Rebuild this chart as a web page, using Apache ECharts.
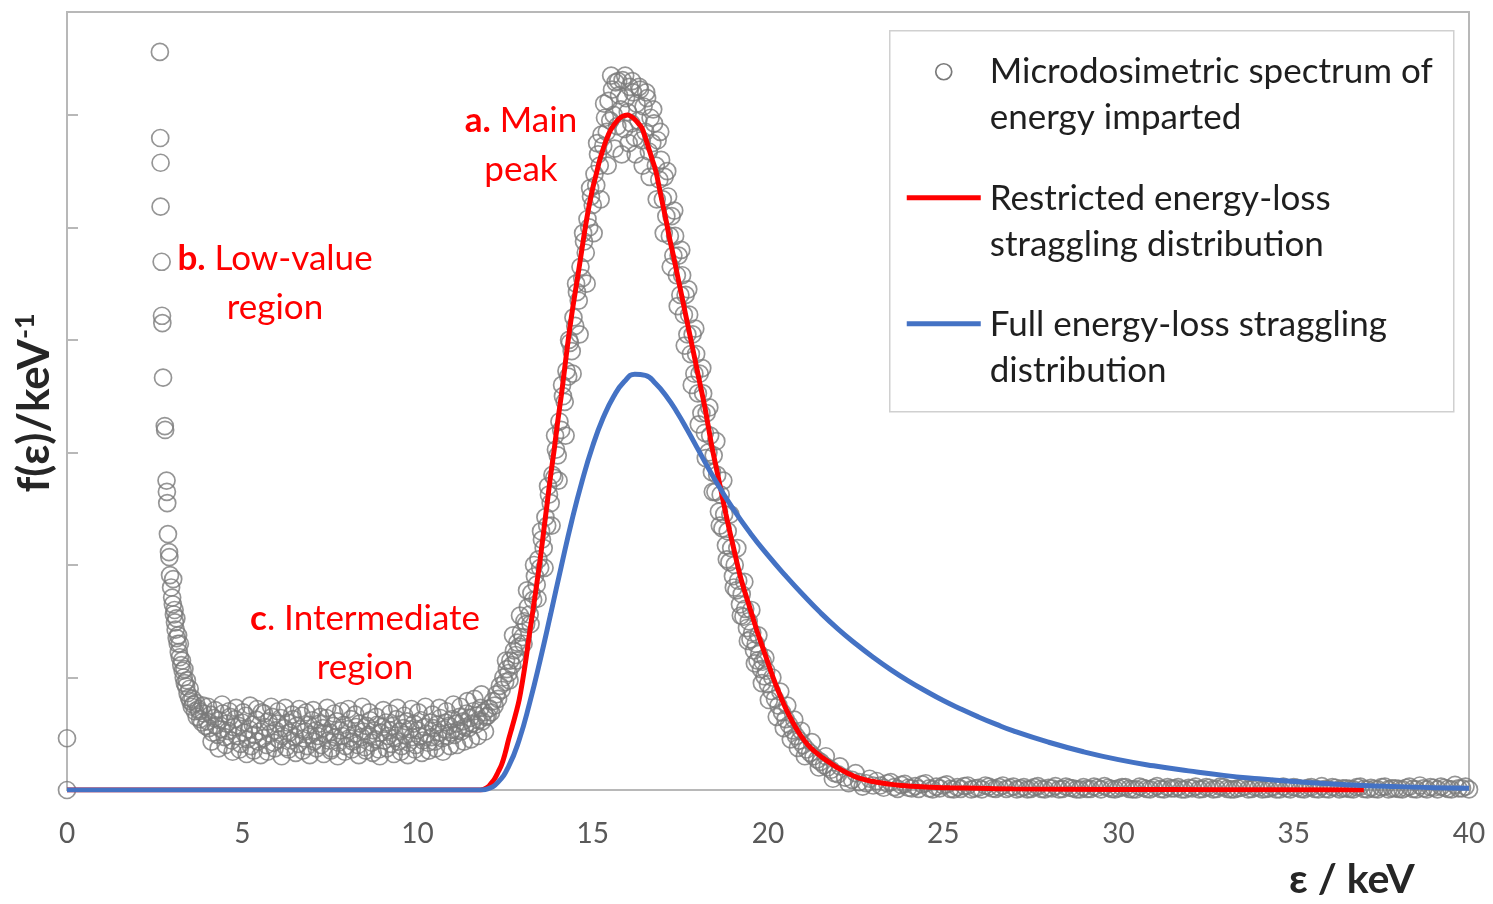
<!DOCTYPE html>
<html>
<head>
<meta charset="utf-8">
<title>Microdosimetric spectrum</title>
<script src="https://cdn.jsdelivr.net/npm/echarts@6/dist/echarts.min.js"></script>
<style>
  html, body { margin: 0; padding: 0; background: #fff; }
  #chart { width: 1493px; height: 904px; }
</style>
</head>
<body>
<div id="chart"></div>
<script>
// y values in units of 1e-2 keV^-1 (ticks every 2)
const xTicks = [0, 5, 10, 15, 20, 25, 30, 35, 40]
const yTicks = [0, 2, 4, 6, 8, 10, 12]

// measured spectrum, split by region
const originPoints = [[0, 0], [0, 0.92]]

const lowValueRegion = [
  [2.65, 13.12], [2.66, 11.59], [2.67, 11.15], [2.67, 10.37], [2.7, 9.39], [2.71, 8.43], [2.72, 8.3],
  [2.74, 7.33], [2.79, 6.47], [2.8, 6.4], [2.84, 5.5], [2.85, 5.3], [2.86, 5.1], [2.88, 4.55],
  [2.91, 4.23], [2.92, 4.14], [2.94, 3.82], [2.97, 3.6], [3.0, 3.42], [3.02, 3.3], [3.05, 3.12],
  [3.08, 2.98], [3.1, 2.85], [3.13, 2.7], [3.16, 2.6], [3.19, 2.45], [3.22, 2.36], [3.26, 2.22],
  [3.3, 2.12], [3.33, 2.0], [3.36, 1.9], [3.4, 1.84], [3.44, 1.72], [3.48, 1.64], [3.52, 1.58],
  [3.56, 1.48], [3.6, 1.52], [3.65, 1.4], [3.7, 1.3], [3.75, 1.44], [3.8, 1.26], [3.85, 1.2],
  [3.9, 1.36], [3.95, 1.14], [3.03, 3.75], [3.07, 3.2], [3.12, 3.05], [3.17, 2.75], [3.22, 2.6],
  [3.28, 2.3], [3.35, 2.15], [3.42, 1.95], [3.5, 1.8], [3.58, 1.62], [3.68, 1.55], [3.78, 1.4], [3.88, 1.5]
]

const intermediateRegion = [
  [4.00, 1.22], [4.05, 1.10], [4.10, 1.34], [4.15, 1.02], [4.20, 1.28], [4.25, 1.15], [4.30, 0.98], [4.35, 1.24],
  [4.40, 1.08], [4.45, 1.36], [4.50, 0.94], [4.55, 1.18], [4.60, 1.05], [4.65, 1.30], [4.70, 0.88], [4.75, 1.12],
  [4.80, 1.26], [4.85, 0.96], [4.90, 1.14], [4.95, 0.82], [5.00, 1.20], [5.05, 1.02], [5.10, 1.32], [5.15, 0.90],
  [5.20, 1.08], [5.25, 0.78], [5.30, 1.16], [5.35, 0.98], [5.40, 1.25], [5.45, 0.86], [5.50, 1.04], [5.55, 1.38],
  [5.60, 0.92], [5.65, 1.12], [5.70, 0.80], [5.75, 1.22], [5.80, 1.00], [5.85, 1.30], [5.90, 0.84], [5.95, 1.06],
  [6.00, 1.18], [6.05, 0.90], [6.10, 1.28], [6.15, 0.96], [6.20, 1.10], [6.25, 0.76], [6.30, 1.20], [6.35, 1.02],
  [6.40, 0.88], [6.45, 1.26], [6.50, 0.94], [6.55, 1.14], [6.60, 0.82], [6.65, 1.08], [6.70, 1.32], [6.75, 0.92],
  [6.80, 1.04], [6.85, 0.78], [6.90, 1.16], [6.95, 0.98], [7.00, 1.24], [7.05, 0.86], [7.10, 1.06], [7.15, 0.96],
  [7.20, 1.18], [7.25, 0.80], [7.30, 1.10], [7.35, 1.00], [7.40, 1.28], [7.45, 0.88], [7.50, 1.02], [7.55, 0.74],
  [7.60, 1.14], [7.65, 0.94], [7.70, 1.22], [7.75, 0.84], [7.80, 1.06], [7.85, 0.96], [7.90, 1.16], [7.95, 0.78],
  [8.00, 1.08], [8.05, 0.92], [8.10, 1.26], [8.15, 0.86], [8.20, 1.00], [8.25, 1.12], [8.30, 0.80], [8.35, 1.18],
  [8.40, 0.94], [8.45, 1.04], [8.50, 0.76], [8.55, 1.14], [8.60, 0.98], [8.65, 1.24], [8.70, 0.84], [8.75, 1.06],
  [8.80, 0.90], [8.85, 1.16], [8.90, 0.72], [8.95, 1.02], [9.00, 1.12], [9.05, 0.88], [9.10, 1.20], [9.15, 0.96],
  [9.20, 1.06], [9.25, 0.82], [9.30, 1.14], [9.35, 0.92], [9.40, 1.26], [9.45, 0.86], [9.50, 1.04], [9.55, 0.78],
  [9.60, 1.10], [9.65, 0.98], [9.70, 1.22], [9.75, 0.84], [9.80, 1.08], [9.85, 0.94], [9.90, 1.18], [9.95, 0.80],
  [10.00, 1.06], [10.05, 0.96], [10.10, 1.24], [10.15, 0.88], [10.20, 1.12], [10.25, 1.00], [10.30, 0.84], [10.35, 1.20],
  [10.40, 0.94], [10.45, 1.10], [10.50, 0.86], [10.55, 1.16], [10.60, 1.02], [10.65, 1.28], [10.70, 0.92], [10.75, 1.08],
  [10.80, 1.20], [10.85, 0.96], [10.90, 1.14], [10.95, 1.02], [11.00, 1.26], [11.05, 0.98], [11.10, 1.18], [11.15, 1.06],
  [11.20, 1.30], [11.25, 1.04], [11.30, 1.22], [11.35, 1.12], [11.40, 1.36], [11.45, 1.10], [11.50, 1.28], [11.55, 1.18],
  [11.60, 1.40], [11.65, 1.16], [11.70, 1.32], [11.75, 1.24], [11.80, 1.46], [11.85, 1.22], [11.90, 1.38], [11.95, 1.30],
  [4.025, 1.48], [4.125, 0.86], [4.225, 1.42], [4.325, 0.74], [4.425, 1.52], [4.525, 0.80], [4.625, 1.40], [4.725, 0.68],
  [4.825, 1.46], [4.925, 0.72], [5.025, 1.38], [5.125, 0.64], [5.225, 1.50], [5.325, 0.70], [5.425, 1.44], [5.525, 0.62],
  [5.625, 1.36], [5.725, 0.68], [5.825, 1.48], [5.925, 0.74], [6.025, 1.40], [6.125, 0.60], [6.225, 1.46], [6.325, 0.72],
  [6.425, 1.34], [6.525, 0.66], [6.625, 1.44], [6.725, 0.70], [6.825, 1.38], [6.925, 0.62], [7.025, 1.42], [7.125, 0.74],
  [7.225, 1.30], [7.325, 0.64], [7.425, 1.46], [7.525, 0.70], [7.625, 1.36], [7.725, 0.60], [7.825, 1.40], [7.925, 0.68],
  [8.025, 1.44], [8.125, 0.72], [8.225, 1.34], [8.325, 0.62], [8.425, 1.48], [8.525, 0.70], [8.625, 1.38], [8.725, 0.66],
  [8.825, 1.30], [8.925, 0.60], [9.025, 1.42], [9.125, 0.74], [9.225, 1.36], [9.325, 0.64], [9.425, 1.46], [9.525, 0.68],
  [9.625, 1.32], [9.725, 0.62], [9.825, 1.44], [9.925, 0.72], [10.025, 1.38], [10.125, 0.66], [10.225, 1.48], [10.325, 0.70],
  [10.425, 1.34], [10.525, 0.74], [10.625, 1.46], [10.725, 0.68], [10.825, 1.40], [10.925, 0.78], [11.025, 1.52], [11.125, 0.80],
  [11.225, 1.48], [11.325, 0.86], [11.425, 1.58], [11.525, 0.90], [11.625, 1.62], [11.725, 0.96], [11.825, 1.70], [11.925, 1.04]
]

const mainPeakRegion = [
  [12.00, 1.32], [12.05, 1.45], [12.10, 1.38], [12.15, 1.58], [12.20, 1.50], [12.25, 1.70], [12.30, 1.62], [12.35, 1.85],
  [12.40, 1.78], [12.45, 2.00], [12.50, 1.92], [12.55, 2.15], [12.60, 2.08], [12.65, 2.30], [12.70, 2.22], [12.75, 2.48],
  [12.80, 2.40], [12.85, 2.62], [12.90, 2.55], [12.95, 2.80], [13.00, 2.72], [13.05, 3.00], [13.10, 2.95], [13.15, 3.25],
  [13.20, 3.12], [13.25, 3.50], [13.30, 3.38], [13.35, 3.80], [13.40, 3.65], [13.45, 4.10], [13.50, 3.95], [13.55, 4.45],
  [13.60, 4.30], [13.65, 4.85], [13.70, 4.70], [13.75, 5.25], [13.80, 5.10], [13.85, 5.60], [13.90, 5.55], [13.95, 6.05],
  [14.00, 5.95], [14.05, 6.55], [14.10, 6.40], [14.15, 7.00], [14.20, 6.90], [14.25, 7.45], [14.30, 7.35], [14.35, 7.95],
  [14.40, 7.80], [14.45, 8.40], [14.50, 8.25], [14.55, 8.85], [14.60, 8.70], [14.65, 9.30], [14.70, 9.10], [14.75, 9.75],
  [14.80, 9.55], [14.85, 10.15], [14.90, 10.00], [14.95, 10.55], [15.00, 10.40], [15.05, 10.95], [15.10, 10.75], [15.15, 11.30],
  [15.20, 11.10], [15.25, 11.65], [15.30, 11.45], [15.35, 11.95], [15.40, 11.70], [15.45, 12.25], [15.50, 11.90], [15.55, 12.45],
  [15.60, 12.00], [15.65, 12.58], [15.70, 11.80], [15.75, 12.35], [15.80, 12.10], [15.85, 12.62], [15.90, 11.75], [15.95, 12.30],
  [16.00, 12.05], [16.05, 12.50], [16.10, 11.85], [16.15, 12.40], [16.20, 11.60], [16.25, 12.20], [16.30, 11.90], [16.35, 12.45],
  [16.40, 11.55], [16.45, 12.15], [16.50, 11.70], [16.55, 12.30], [16.60, 11.35], [16.65, 11.95], [16.70, 11.50], [16.75, 11.85],
  [16.80, 11.10], [16.85, 11.55], [16.90, 10.85], [16.95, 11.20], [17.00, 10.50], [17.05, 10.90], [17.10, 10.20], [17.15, 10.55],
  [17.20, 9.85], [17.25, 10.20], [17.30, 9.50], [17.35, 9.85], [17.40, 9.15], [17.45, 9.50], [17.50, 8.80], [17.55, 9.15],
  [17.60, 8.45], [17.65, 8.80], [17.70, 8.10], [17.75, 8.45], [17.80, 7.75], [17.85, 8.10], [17.90, 7.40], [17.95, 7.75],
  [18.00, 7.05], [18.05, 7.40], [18.10, 6.70], [18.15, 7.05], [18.20, 6.35], [18.25, 6.70], [18.30, 6.00], [18.35, 6.30],
  [18.40, 5.65], [18.45, 5.95], [18.50, 5.30], [18.55, 5.60], [18.60, 4.95], [18.65, 5.25], [18.70, 4.65], [18.75, 4.90],
  [18.80, 4.35], [18.85, 4.60], [18.90, 4.05], [18.95, 4.30], [19.00, 3.80], [19.05, 4.00], [19.10, 3.55], [19.15, 3.72],
  [19.20, 3.30], [19.25, 3.48], [19.30, 3.08], [19.35, 3.22], [19.40, 2.88], [19.45, 3.00], [19.50, 2.68], [19.55, 2.80],
  [19.60, 2.48], [19.65, 2.60], [19.70, 2.30], [19.75, 2.42], [19.80, 2.15], [19.85, 2.28], [19.90, 2.02], [19.95, 2.12],
  [20.00, 1.88], [20.10, 1.76], [20.20, 1.62], [20.30, 1.50], [20.40, 1.38], [20.50, 1.26], [20.60, 1.16], [20.70, 1.06],
  [20.80, 0.96], [20.90, 0.88], [21.00, 0.80], [21.10, 0.72], [21.20, 0.66], [21.30, 0.60], [21.40, 0.54], [21.50, 0.50],
  [21.60, 0.44], [21.70, 0.40], [21.80, 0.36], [21.90, 0.30], [22.00, 0.28], [22.20, 0.22], [22.40, 0.18], [22.60, 0.14],
  [22.80, 0.12], [23.00, 0.08],
  [12.525, 2.3], [12.625, 1.95], [12.725, 2.75], [12.825, 2.3], [12.925, 3.1], [13.025, 2.6], [13.125, 3.55], [13.225, 2.95],
  [13.325, 4.0], [13.425, 3.4], [13.525, 4.6], [13.625, 3.95], [13.725, 5.4], [13.825, 4.7], [13.925, 6.3], [14.025, 5.5],
  [14.125, 7.2], [14.225, 6.3], [14.325, 8.0], [14.425, 7.4], [14.525, 9.0], [14.625, 8.1], [14.725, 9.9], [14.825, 9.0],
  [14.925, 10.7], [15.025, 9.9], [15.125, 11.5], [15.225, 10.5], [15.325, 12.2], [15.425, 11.1], [15.525, 12.7], [15.625, 11.4],
  [15.725, 12.6], [15.825, 11.3], [15.925, 12.7], [16.025, 11.5], [16.125, 12.6], [16.225, 11.3], [16.325, 12.5], [16.425, 11.1],
  [16.525, 12.4], [16.625, 10.9], [16.725, 12.1], [16.825, 10.5], [16.925, 11.7], [17.025, 9.9], [17.125, 11.0], [17.225, 9.3],
  [17.325, 10.3], [17.425, 8.6], [17.525, 9.6], [17.625, 7.9], [17.725, 8.9], [17.825, 7.2], [17.925, 8.2], [18.025, 6.5],
  [18.125, 7.5], [18.225, 5.9], [18.325, 6.8], [18.425, 5.3], [18.525, 6.2], [18.625, 4.7], [18.725, 5.5], [18.825, 4.1],
  [18.925, 4.9], [19.025, 3.6], [19.125, 4.3], [19.225, 3.1], [19.325, 3.7], [19.425, 2.65], [19.525, 3.2], [19.625, 2.25],
  [19.725, 2.75], [19.825, 1.9], [19.925, 2.35], [20.025, 1.6], [20.125, 2.0], [20.25, 1.3], [20.35, 1.75], [20.45, 1.1],
  [20.55, 1.5], [20.65, 0.9], [20.75, 1.25], [20.85, 0.75], [20.95, 1.05], [21.05, 0.6], [21.25, 0.85], [21.45, 0.4],
  [21.65, 0.6], [21.85, 0.2], [22.05, 0.42], [22.3, 0.12], [22.5, 0.3], [22.7, 0.06], [22.9, 0.2]
]

const tailRegion = [
  [23.2, 0.08], [23.4, 0.12], [23.6, 0.05], [23.8, 0.09], [24.0, 0.04], [24.2, 0.07], [24.4, 0.10], [24.6, 0.03],
  [24.8, 0.06], [25.0, 0.08], [25.2, 0.02], [25.4, 0.05], [25.6, 0.07], [25.8, 0.01], [26.0, 0.04], [26.2, 0.08],
  [26.4, 0.03], [26.6, 0.05], [26.8, 0.02], [27.0, 0.06], [27.2, 0.03], [27.4, 0.01], [27.6, 0.05], [27.8, 0.02],
  [28.0, 0.04], [28.2, 0.07], [28.4, 0.02], [28.6, 0.04], [28.8, 0.01], [29.0, 0.05], [29.2, 0.02], [29.4, 0.04],
  [29.6, 0.07], [29.8, 0.02], [30.0, 0.03], [30.2, 0.05], [30.4, 0.01], [30.6, 0.06], [30.8, 0.02], [31.0, 0.04],
  [31.2, 0.02], [31.4, 0.05], [31.6, 0.03], [31.8, 0.01], [32.0, 0.04], [32.2, 0.06], [32.4, 0.02], [32.6, 0.04],
  [32.8, 0.02], [33.0, 0.05], [33.2, 0.01], [33.4, 0.03], [33.6, 0.06], [33.8, 0.02], [34.0, 0.04], [34.2, 0.02],
  [34.4, 0.05], [34.6, 0.01], [34.8, 0.03], [35.0, 0.05], [35.2, 0.02], [35.4, 0.04], [35.6, 0.02], [35.8, 0.07],
  [36.0, 0.01], [36.2, 0.04], [36.4, 0.03], [36.6, 0.02], [36.8, 0.05], [37.0, 0.02], [37.2, 0.04], [37.4, 0.01],
  [37.6, 0.06], [37.8, 0.03], [38.0, 0.02], [38.2, 0.04], [38.4, 0.02], [38.6, 0.08], [38.8, 0.01], [39.0, 0.04],
  [39.2, 0.06], [39.4, 0.02], [39.6, 0.09], [39.8, 0.03], [40.0, 0.01],
  [23.1, 0.16], [23.3, 0.04], [23.5, 0.14], [23.7, 0.02], [23.9, 0.11], [24.1, 0.03], [24.3, 0.02], [24.5, 0.12],
  [24.7, 0.01], [24.9, 0.03], [25.1, 0.10], [25.3, 0.01], [25.5, 0.02], [25.7, 0.08], [25.9, 0.03], [26.1, 0.01],
  [26.3, 0.06], [26.5, 0.02], [26.7, 0.08], [26.9, 0.04], [27.1, 0.01], [27.3, 0.05], [27.5, 0.02], [27.7, 0.07],
  [27.9, 0.01], [28.1, 0.03], [28.3, 0.01], [28.5, 0.06], [28.7, 0.03], [28.9, 0.01], [29.1, 0.02], [29.3, 0.06],
  [29.5, 0.01], [29.7, 0.04], [29.9, 0.01], [30.1, 0.05], [30.3, 0.02], [30.5, 0.01], [30.7, 0.04], [30.9, 0.01],
  [31.1, 0.07], [31.3, 0.01], [31.5, 0.03], [31.7, 0.05], [31.9, 0.01], [32.1, 0.03], [32.3, 0.01], [32.5, 0.05],
  [32.7, 0.01], [32.9, 0.06], [33.1, 0.02], [33.3, 0.01], [33.5, 0.04], [33.7, 0.01], [33.9, 0.05], [34.1, 0.01],
  [34.3, 0.03], [34.5, 0.01], [34.7, 0.06], [34.9, 0.01], [35.1, 0.04], [35.3, 0.01], [35.5, 0.05], [35.7, 0.01],
  [35.9, 0.02], [36.1, 0.05], [36.3, 0.01], [36.5, 0.03], [36.7, 0.01], [36.9, 0.06], [37.1, 0.01], [37.3, 0.02],
  [37.5, 0.05], [37.7, 0.01], [37.9, 0.03], [38.1, 0.01], [38.3, 0.06], [38.5, 0.01], [38.7, 0.03], [38.9, 0.05],
  [39.1, 0.01], [39.3, 0.04], [39.5, 0.01], [39.7, 0.03], [39.9, 0.06]
]

// restricted energy-loss straggling distribution
const restrictedCurve = [
  [0, 0], [10.0, 0], [11.0, 0], [11.5, 0], [11.8, 0], [12.0, 0.05], [12.1, 0.12], [12.2, 0.2], [12.3, 0.32],
  [12.4, 0.45], [12.5, 0.65], [12.6, 0.9], [12.7, 1.12], [12.8, 1.35], [12.9, 1.6], [13.0, 1.95], [13.1, 2.35],
  [13.2, 2.8], [13.3, 3.22], [13.4, 3.65], [13.5, 4.1], [13.6, 4.6], [13.7, 5.1], [13.8, 5.6], [13.9, 6.05],
  [14.0, 6.55], [14.1, 7.0], [14.2, 7.5], [14.3, 8.0], [14.4, 8.45], [14.5, 8.85], [14.6, 9.24], [14.7, 9.65],
  [14.8, 10.05], [14.9, 10.4], [15.0, 10.7], [15.1, 10.95], [15.2, 11.2], [15.3, 11.4], [15.4, 11.58], [15.5, 11.72],
  [15.6, 11.82], [15.7, 11.9], [15.8, 11.96], [15.9, 11.99], [16.0, 12.0], [16.1, 11.97], [16.2, 11.92], [16.3, 11.85],
  [16.4, 11.77], [16.5, 11.6], [16.6, 11.4], [16.7, 11.2], [16.8, 11.0], [16.9, 10.7], [17.0, 10.4], [17.1, 10.1],
  [17.2, 9.78], [17.3, 9.5], [17.4, 9.2], [17.5, 8.9], [17.6, 8.6], [17.7, 8.3], [17.8, 8.0], [17.9, 7.7],
  [18.0, 7.4], [18.1, 7.1], [18.2, 6.8], [18.3, 6.45], [18.4, 6.1], [18.5, 5.8], [18.6, 5.5], [18.7, 5.2],
  [18.8, 4.9], [18.9, 4.62], [19.0, 4.35], [19.1, 4.08], [19.2, 3.82], [19.3, 3.6], [19.4, 3.4], [19.5, 3.2],
  [19.6, 3.0], [19.7, 2.8], [19.8, 2.62], [19.9, 2.44], [20.0, 2.26], [20.1, 2.08], [20.2, 1.91], [20.3, 1.75],
  [20.4, 1.6], [20.5, 1.46], [20.6, 1.33], [20.7, 1.21], [20.8, 1.1], [20.9, 1.0], [21.0, 0.91], [21.2, 0.76],
  [21.5, 0.6], [21.8, 0.47], [22.0, 0.39], [22.3, 0.29], [22.6, 0.21], [23.0, 0.15], [23.4, 0.11], [23.8, 0.08],
  [24.5, 0.055], [25.2, 0.04], [26.0, 0.03], [27.0, 0.02], [30.0, 0.01], [33.0, 0.005], [37.0, 0]
]

// full energy-loss straggling distribution
const fullCurve = [
  [0, 0], [10.0, 0], [11.0, 0], [11.5, 0], [11.8, 0], [12.0, 0.02], [12.3, 0.14], [12.6, 0.42], [12.9, 0.89],
  [13.2, 1.55], [13.5, 2.31], [13.8, 3.13], [14.1, 3.97], [14.4, 4.78], [14.7, 5.5], [15.0, 6.12], [15.3, 6.62],
  [15.6, 7.0], [15.9, 7.26], [16.2, 7.39], [16.5, 7.37], [16.8, 7.22], [17.1, 7.0], [17.4, 6.72], [17.7, 6.4],
  [18.0, 6.06], [18.5, 5.5], [19.0, 5.0], [19.5, 4.56], [20.0, 4.17], [20.5, 3.81], [21.0, 3.47], [21.5, 3.15],
  [22.0, 2.86], [22.5, 2.6], [23.0, 2.36], [23.5, 2.14], [24.0, 1.94], [24.5, 1.76], [25.0, 1.59], [25.5, 1.44],
  [26.0, 1.3], [26.5, 1.17], [27.0, 1.05], [28.0, 0.85], [29.0, 0.68], [30.0, 0.54], [31.0, 0.43], [32.0, 0.34],
  [33.0, 0.26], [34.0, 0.2], [35.0, 0.15], [36.0, 0.11], [37.0, 0.08], [38.0, 0.06], [39.0, 0.04], [40.0, 0.03]
]

const font = 'Lato, "Open Sans", sans-serif'
const gridLine = '#b8b8b8'
const red = '#ff0000'
const blue = '#4472c4'

let chart = echarts.init(document.getElementById('chart'), null, { renderer: 'canvas' })

// 两行文本, 首字母加粗
function note (x, y, head, rest, line2) {
  return {
    type: 'text', x: x, y: y, z: 50,
    style: {
      text: '{b|' + head + '}' + rest + '\n' + line2, align: 'center', verticalAlign: 'middle',
      fontSize: 35, fontFamily: font, fill: red, lineHeight: 49,
      rich: { b: { fontSize: 35, fontWeight: 'bold', fontFamily: font, fill: red, lineHeight: 49 } }
    }
  }
}

let legendText = function (y, text) {
  return { type: 'text', x: 100, y: y, style: { text: text, fontSize: 35, fontFamily: font, fill: '#1f1f1f', lineHeight: 46, verticalAlign: 'middle' } }
}

let option = {
  animation: false,
  backgroundColor: '#ffffff',
  grid: {
    left: 67, right: 24, top: 12, bottom: 114,
    show: true, borderColor: gridLine, borderWidth: 2, backgroundColor: 'transparent'
  },
  xAxis: {
    type: 'value',
    min: xTicks[0],
    max: xTicks[xTicks.length - 1],
    interval: 5,
    axisLine: { show: true, lineStyle: { color: gridLine, width: 2 } },
    axisTick: { show: false },
    splitLine: { show: false },
    axisLabel: { color: '#595959', fontSize: 28, fontFamily: font, margin: 30 }
  },
  yAxis: {
    type: 'value',
    position: 'right',
    min: 0,
    max: 13.83,
    interval: 2,
    axisLine: { show: true, lineStyle: { color: gridLine, width: 2 } },
    axisTick: { show: true, inside: false, length: 11, customValues: yTicks, lineStyle: { color: gridLine, width: 2 } },
    axisLabel: { show: false },
    splitLine: { show: false }
  },
  series: [
    {
      name: 'Microdosimetric spectrum of energy imparted',
      type: 'scatter',
      clip: false,
      symbol: 'circle',
      symbolSize: 17,
      itemStyle: { color: 'rgba(0,0,0,0)', borderColor: '#7a7a7a', borderWidth: 1.7 },
      data: [].concat(originPoints, lowValueRegion, intermediateRegion, mainPeakRegion, tailRegion)
    },
    {
      name: 'Restricted energy-loss straggling distribution',
      type: 'line',
      showSymbol: false,
      smooth: 0.4,
      lineStyle: { color: red, width: 5 },
      data: restrictedCurve
    },
    {
      name: 'Full energy-loss straggling distribution',
      type: 'line',
      showSymbol: false,
      smooth: 0.5,
      lineStyle: { color: blue, width: 5 },
      data: fullCurve
    }
  ],
  graphic: [
    // axis titles
    {
      type: 'text', left: 1289, top: 859,
      style: { text: 'ε / keV', fontSize: 41, fontWeight: 'bold', fontFamily: font, fill: '#262626' }
    },
    {
      type: 'text', x: 35, y: 403, rotation: Math.PI / 2,
      style: {
        text: '{a|f(ε)/keV}{s|-1}', align: 'center', verticalAlign: 'middle',
        rich: {
          a: { fontSize: 44, fontWeight: 'bold', fontFamily: font, fill: '#262626' },
          s: { fontSize: 27, fontWeight: 'bold', fontFamily: font, fill: '#262626', padding: [0, 0, 20, 0] }
        }
      }
    },
    // region annotations
    note(521, 145, 'a.', ' Main', 'peak'),
    note(275, 283, 'b.', ' Low-value', 'region'),
    note(365, 643, 'c', '. Intermediate', 'region'),
    // legend box
    {
      type: 'group', left: 889, top: 30,
      children: [
        { type: 'rect', shape: { x: 0, y: 0, width: 564, height: 381 }, style: { fill: '#fff', stroke: '#d0d0d0', lineWidth: 1.5 } },
        { type: 'circle', shape: { cx: 54, cy: 41, r: 8 }, style: { fill: 'none', stroke: '#7a7a7a', lineWidth: 1.7 } },
        legendText(64, 'Microdosimetric spectrum of\nenergy imparted'),
        { type: 'line', shape: { x1: 17, y1: 167, x2: 91, y2: 167 }, style: { stroke: red, lineWidth: 5 } },
        legendText(191, 'Restricted energy-loss\nstraggling distribution'),
        { type: 'line', shape: { x1: 17, y1: 293, x2: 91, y2: 293 }, style: { stroke: blue, lineWidth: 5 } },
        legendText(317, 'Full energy-loss straggling\ndistribution')
      ]
    }
  ]
}

chart.setOption(option)
</script>
</body>
</html>
